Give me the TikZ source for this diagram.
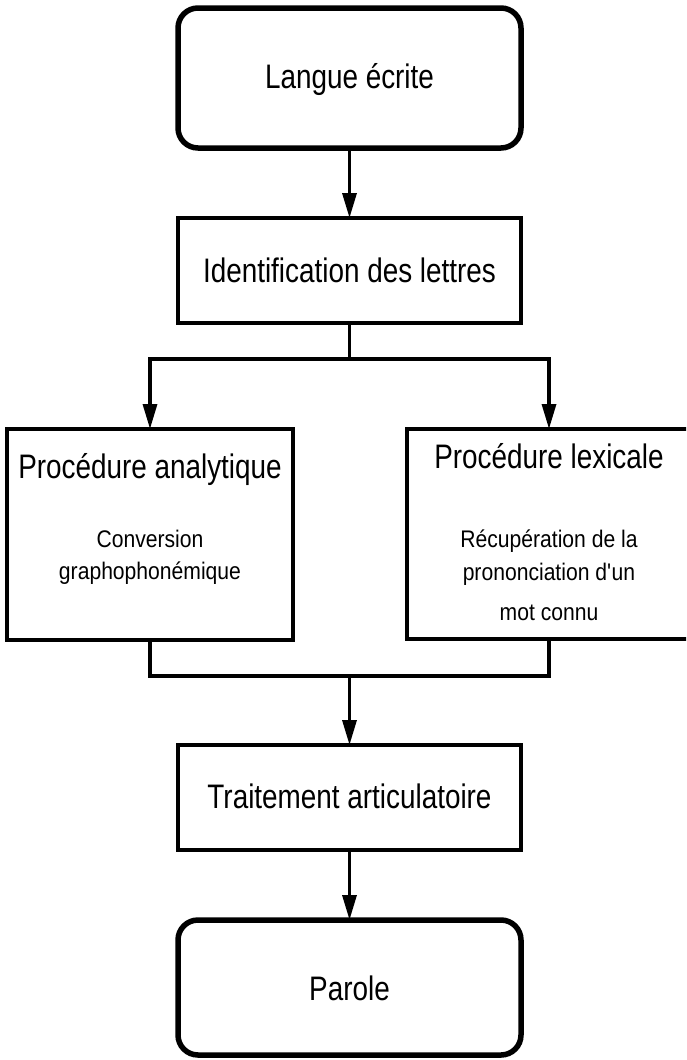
\documentclass[tikz,border=0pt]{standalone}
\usepackage{fontspec}
\setmainfont{Liberation Sans}[FakeStretch=0.82]
\newfontfamily\subfont{Liberation Sans}[FakeStretch=0.88]
\usetikzlibrary{arrows.meta}
\tikzset{
  box/.style={draw, line width=3.5pt, rectangle, inner sep=0pt, outer sep=0pt},
  endbox/.style={box, line width=5.5pt, rounded corners=20pt},
  conn/.style={line width=3.3pt},
  arr/.style={conn, -{Triangle[length=25pt,width=14pt]}},
  big/.style={font=\fontsize{34}{40}\selectfont, inner sep=0pt, anchor=base},
  small/.style={font=\subfont\fontsize{24}{28}\selectfont, inner sep=0pt, anchor=base},
}
\begin{document}
\begin{tikzpicture}[x=1pt,y=-1pt]
\clip (0,0) rectangle (686,1060);
\fill[white] (0,0) rectangle (686,1060);
% boxes
\node[endbox, minimum width=343pt, minimum height=140pt] (top) at (349.5,78) {};
\node[box, minimum width=343pt, minimum height=105pt] (ident) at (349.5,270.5) {};
\node[box, minimum width=286pt, minimum height=211pt] (left) at (150,534.5) {};
\node[box, minimum width=284pt, minimum height=210pt] (right) at (549,534) {};
\node[box, minimum width=343pt, minimum height=105pt] (art) at (349.5,797.5) {};
\node[endbox, minimum width=343pt, minimum height=135pt] (bot) at (349.5,987.5) {};
% texts
\node[big] (ttop) at (349.5,88) {Langue écrite};
\node[big] (tident) at (349.5,282) {Identification des lettres};
\node[big] (tleft) at (150,478) {Procédure analytique};
\node[big] (tright) at (549,468) {Procédure lexicale};
\node[small] (l1) at (150,547) {Conversion};
\node[small] (l2) at (150,579) {graphophonémique};
\node[small] (r1) at (549,547) {Récupération de la};
\node[small] (r2) at (549,580) {prononciation d\textquotesingle un};
\node[small] (r3) at (549,620) {mot connu};
\node[big] (tart) at (349.5,808) {Traitement articulatoire};
\node[big] (tbot) at (349.5,1000) {Parole};
% connectors
\coordinate (bj) at (349.5,359);
\coordinate (mj) at (349.5,676);
\draw[arr] (top.south) -- (ident.north);
\draw[conn] (ident.south) -- (bj);
\draw[arr] (bj) -| (left.north);
\draw[arr] (bj) -| (right.north);
\draw[conn] (left.south) |- (mj);
\draw[conn] (right.south) |- (mj);
\draw[arr] (mj) -- (art.north);
\draw[arr] (art.south) -- (bot.north);
\end{tikzpicture}
\end{document}
